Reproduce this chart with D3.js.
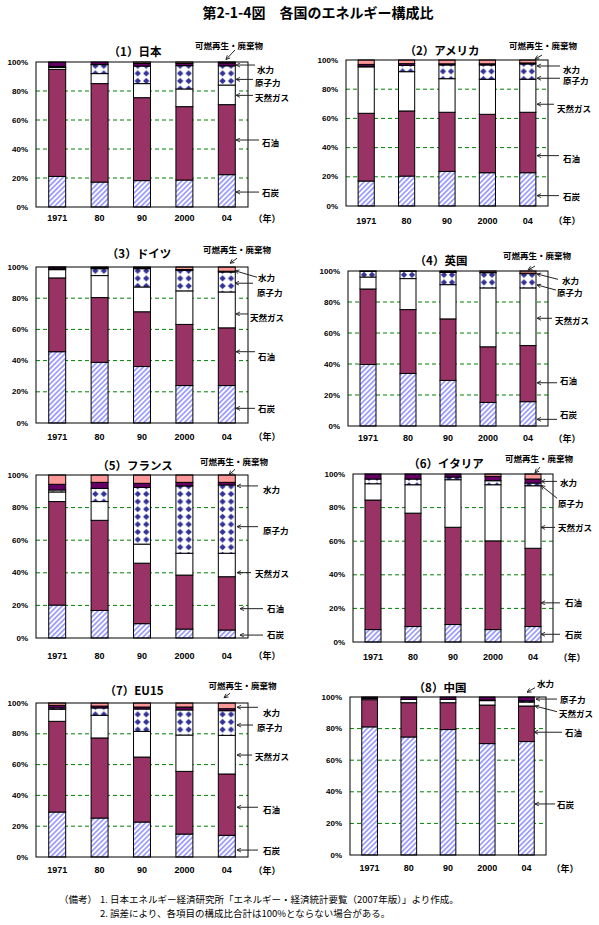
<!DOCTYPE html>
<html>
<head>
<meta charset="utf-8">
<script src="https://cdn.jsdelivr.net/npm/d3@7"></script>
<style>
  body { margin: 0; background: #fff; }
  text { font-family: "Liberation Sans", Arial, sans-serif; }
  .jp { font-family: "Noto Sans CJK JP", sans-serif; }
</style>
</head>
<body>
<div id="chart"></div>
<script>
// ---- data (shares in %, stacked bottom to top) ----
var years = ["1971", "80", "90", "2000", "04"];
var sources = ["石炭", "石油", "天然ガス", "原子力", "水力", "可燃再生・廃棄物"];
var countries = ["（1）日本", "（2）アメリカ", "（3）ドイツ", "（4）英国",
                 "（5）フランス", "（6）イタリア", "（7）EU15", "（8）中国"];
var yTicks = [0, 20, 40, 60, 80, 100];

// rows: coal, oil, gas, nuclear, hydro, renewables ; columns: years
var japan = [
  [21.1, 17.2, 18.2, 18.6, 22.3],
  [73.8, 67.9, 57.2, 50.6, 48.3],
  [1.3, 6.9, 9.7, 12.2, 13.5],
  [0.8, 6.2, 12.1, 16.1, 13.3],
  [3.0, 1.8, 1.8, 1.5, 2.0],
  [0.0, 0.0, 1.0, 1.0, 0.6]
];
var usa = [
  [17.1, 20.5, 23.7, 22.8, 22.8],
  [46.4, 44.6, 40.5, 40.0, 41.4],
  [31.8, 26.9, 23.0, 24.0, 22.6],
  [0.4, 4.3, 9.4, 9.8, 10.5],
  [1.3, 1.2, 0.8, 0.8, 0.7],
  [3.0, 2.5, 2.6, 2.6, 2.0]
];
var germany = [
  [45.7, 38.9, 36.2, 24.0, 24.0],
  [47.3, 41.5, 35.1, 39.2, 37.0],
  [5.3, 14.1, 15.9, 21.5, 23.0],
  [0.6, 4.4, 11.7, 13.2, 12.8],
  [1.0, 0.5, 0.4, 0.5, 0.5],
  [0.1, 0.6, 0.7, 1.6, 2.7]
];
var uk = [
  [39.7, 33.9, 29.4, 15.2, 15.7],
  [48.7, 41.2, 39.7, 35.9, 36.2],
  [7.7, 20.0, 22.1, 38.0, 37.2],
  [3.7, 4.8, 7.9, 9.8, 9.2],
  [0.2, 0.1, 0.3, 0.2, 0.3],
  [0.0, 0.0, 0.6, 0.9, 1.4]
];
var france = [
  [20.2, 16.9, 8.8, 5.5, 4.9],
  [63.5, 55.3, 37.1, 33.1, 32.7],
  [5.9, 11.5, 11.7, 13.4, 14.4],
  [1.2, 8.1, 34.8, 41.3, 41.9],
  [3.5, 3.7, 2.5, 2.2, 1.6],
  [5.7, 4.5, 5.1, 4.5, 4.5]
];
var italy = [
  [7.4, 9.2, 10.4, 7.4, 9.2],
  [77.1, 67.5, 57.9, 52.8, 46.6],
  [9.7, 16.9, 28.3, 33.4, 37.2],
  [2.8, 3.4, 1.6, 2.4, 1.6],
  [3.0, 3.0, 1.8, 2.6, 2.4],
  [0.0, 0.0, 0.0, 1.4, 3.0]
];
var eu15 = [
  [29.2, 25.3, 22.7, 14.9, 14.1],
  [58.9, 52.0, 42.2, 40.7, 39.8],
  [7.8, 14.7, 16.7, 23.6, 25.1],
  [0.9, 4.8, 14.5, 16.3, 16.0],
  [1.7, 1.2, 1.3, 1.9, 1.3],
  [1.5, 2.0, 2.6, 2.6, 3.7]
];
var china = [
  [81.1, 74.7, 79.4, 70.5, 71.8],
  [17.2, 21.7, 17.0, 24.4, 22.5],
  [0.8, 2.1, 2.1, 2.8, 2.5],
  [0.0, 0.0, 0.0, 0.4, 0.8],
  [0.9, 1.5, 1.5, 1.9, 2.4],
  [0.0, 0.0, 0.0, 0.0, 0.0]
];
var allShares = [japan, usa, germany, uk, france, italy, eu15, china];

// ---- layout ----
var W = 599, H = 925;
// plot box, title centre, x-label offset
var panels = [
  {x: 36,  y: 62,  w: 212, h: 145, tx: 135, ty: 51,  xl: 11},
  {x: 346, y: 60,  w: 202, h: 146, tx: 442, ty: 50,  xl: 14.5},
  {x: 36,  y: 267, w: 212, h: 156, tx: 139, ty: 253, xl: 13.5},
  {x: 348, y: 271, w: 200, h: 155, tx: 441, ty: 260, xl: 12},
  {x: 36,  y: 475, w: 212, h: 163, tx: 135, ty: 465, xl: 17.5},
  {x: 353, y: 474, w: 200, h: 168, tx: 446, ty: 463, xl: 15},
  {x: 36,  y: 703, w: 212, h: 154, tx: 134, ty: 690, xl: 13},
  {x: 350, y: 697, w: 196, h: 158, tx: 440, ty: 687, xl: 13}
];
// label callouts: [source, text dx from right edge, text %, arrow start dx, start %, tip dx, tip %, anchor]
var callouts = [
  [[5, -19, 111.7, -13, 108.3, -22, 101.7, "middle"], [4, 9, 95.2, 7, 97.9, -12, 97.9],
   [3, 7, 86.4, 5, 88, -12, 88], [2, 7, 76, 5, 77, -12, 77],
   [1, 14, 44.6, 11, 46.2, -12, 46.2], [0, 14, 10.1, 11, 10.3, -12, 10.3]],
  [[5, -5, 110.3, -6, 103.4, -13, 100.5, "middle"], [4, 15, 93.6, 12, 95.9, -11, 95.9],
   [3, 15, 86.3, 12, 87.5, -11, 87.5], [2, 9, 66.9, 6, 69.7, -11, 69.7],
   [1, 15, 32.6, 11, 34.5, -11, 34.5], [0, 15, 7.1, 11, 7.1, -11, 7.1]],
  [[5, -11, 111.3, -11, 105.6, -18, 102.4, "middle"], [4, 10, 93.8, 9, 93.4, -13, 97.6],
   [3, 9, 84.2, 5, 89.6, -13, 89.6], [2, 2, 68.1, 0, 69.9, -12, 69.9],
   [1, 10, 42.9, 7, 45.7, -12, 45.7], [0, 10, 9.4, 7, 9.4, -12, 9.4]],
  [[5, -11, 110.3, -13, 103.2, -20, 100.6, "middle"], [4, 14, 94.2, 10, 94.6, -11, 98.1],
   [3, 9, 86.2, 8, 87.7, -11, 91], [2, 7, 68.4, 4, 69.5, -11, 69.5],
   [1, 12, 29.7, 9, 27.9, -11, 27.9], [0, 12, 7.7, 9, 4.3, -11, 4.3]],
  [[5, -14, 108.8, -13, 103.5, -19, 100, "middle"], [4, 15, 91.2, 10, 93.3, -11, 93.3],
   [3, 15, 66.3, 10, 68.3, -11, 68.3], [2, 7, 40.1, 3, 40.1, -11, 40.1],
   [1, 19, 18.6, 15, 18, -8, 18], [0, 19, 2.5, 15, 1.8, -8, 1.8]],
  [[5, -14, 109.8, -13, 104.1, -18, 100.6, "middle"], [4, 7, 95.2, 4, 95.6, -12, 95.6],
   [3, 5, 83, 4, 85.6, -12, 93.2], [2, 5, 68.2, 2, 68.2, -12, 68.2],
   [1, 12, 23.9, 7, 23.3, -12, 23.3], [0, 12, 4.6, 7, 4.6, -12, 4.6]],
  [[5, -5.5, 111.7, -18, 106.3, -24, 103.4, "middle"], [4, 15, 94.4, 10, 97.2, -11, 97.2],
   [3, 9, 84.6, 5, 85.7, -11, 85.7], [2, 7, 65.4, 4, 66.2, -11, 66.2],
   [1, 15, 31.2, 10, 32.3, -11, 32.3], [0, 15, 4.5, 10, 4.5, -11, 4.5]],
  [[4, -9, 108.7, -11, 105.9, -19, 103], [3, 14, 98.7, 11, 98.7, -10, 98.7],
   [2, 13, 89.7, 11, 90.7, -11, 94.3], [1, 19, 77.7, 16, 77.7, -12, 77.7],
   [0, 11, 32.3, 9, 32.3, -11, 32.3]]
];

var colors = ["url(#coalHatch)", "#993366", "#ffffff", null, "#660066", "#ff9999"];

var svg = d3.select("#chart").append("svg")
  .attr("width", W)
  .attr("height", H);

svg.append("rect").attr("width", W).attr("height", H).attr("fill", "#fff");

var defs = svg.append("defs");

// coal hatch
var hatch = defs.append("pattern")
  .attr("id", "coalHatch")
  .attr("patternUnits", "userSpaceOnUse")
  .attr("width", 3.6).attr("height", 3.6)
  .attr("patternTransform", "rotate(45)");
hatch.append("rect").attr("width", 3.6).attr("height", 3.6).attr("fill", "#fff");
hatch.append("rect").attr("width", 1.7).attr("height", 3.6).attr("fill", "#9999ff");

// arrow head
defs.append("marker")
  .attr("id", "arrow")
  .attr("viewBox", "0 0 8 8")
  .attr("refX", 7.5).attr("refY", 4)
  .attr("markerWidth", 5).attr("markerHeight", 5)
  .attr("markerUnits", "userSpaceOnUse")
  .attr("orient", "auto")
  .append("path")
  .attr("d", "M1,0.8 L7.5,4 L1,7.2")
  .attr("fill", "none")
  .attr("stroke", "#222")
  .attr("stroke-width", 1.4);

// main title
svg.append("text")
  .attr("class", "jp")
  .attr("x", 318).attr("y", 12)
  .attr("text-anchor", "middle")
  .attr("dominant-baseline", "central")
  .style("font-size", "14px")
  .style("font-weight", "bold")
  .text("第2-1-4図　各国のエネルギー構成比");

var stack = d3.stack().keys(sources);

panels.forEach(function(p, pi) {
  var shares = allShares[pi];
  var rows = years.map(function(yr, i) {
    var r = {year: yr};
    sources.forEach(function(s, k) { r[s] = shares[k][i]; });
    return r;
  });
  var series = stack(rows);

  var xScale = d3.scaleBand()
    .domain(years)
    .range([p.x, p.x + p.w])
    .paddingInner(0.6)
    .paddingOuter(0.3);
  var yScale = d3.scaleLinear()
    .domain([0, 100])
    .range([p.y + p.h, p.y]);

  var g = svg.append("g");

  // nuclear diamond patterns, one per bar so they line up with the bar
  years.forEach(function(yr, i) {
    var bw = xScale.bandwidth();
    var pw = bw / 2, ph = 7.6;
    var pat = defs.append("pattern")
      .attr("id", "nuc" + pi + "_" + i)
      .attr("patternUnits", "userSpaceOnUse")
      .attr("x", xScale(yr)).attr("y", p.y)
      .attr("width", pw).attr("height", ph);
    pat.append("rect").attr("width", pw).attr("height", ph).attr("fill", "#fff");
    var cx = pw / 2, cy = ph / 2, r = 3.2;
    pat.append("path")
      .attr("d", "M" + cx + "," + (cy - r) + "L" + (cx + r) + "," + cy + "L" + cx + "," + (cy + r) + "L" + (cx - r) + "," + cy + "Z")
      .attr("fill", "#333399");
  });

  // gridlines
  g.selectAll("line.grid")
    .data(yTicks.filter(function(t) { return t > 0 && t < 100; }))
    .enter().append("line")
    .attr("x1", p.x).attr("x2", p.x + p.w)
    .attr("y1", function(d) { return yScale(d); })
    .attr("y2", function(d) { return yScale(d); })
    .attr("stroke", "#008000")
    .attr("stroke-width", 1)
    .attr("stroke-dasharray", "4,3");

  // stacked bars
  series.forEach(function(s, k) {
    g.selectAll("rect.s" + k)
      .data(s.filter(function(d) { return d[1] - d[0] > 0; }))
      .enter().append("rect")
      .attr("x", function(d) { return xScale(d.data.year); })
      .attr("y", function(d) { return yScale(d[1]); })
      .attr("width", xScale.bandwidth())
      .attr("height", function(d) { return yScale(d[0]) - yScale(d[1]); })
      .attr("fill", function(d) {
        if (k === 3) return "url(#nuc" + pi + "_" + years.indexOf(d.data.year) + ")";
        return colors[k];
      })
      .attr("stroke", "#000")
      .attr("stroke-width", 1);
  });

  // frame
  g.append("rect")
    .attr("x", p.x).attr("y", p.y)
    .attr("width", p.w).attr("height", p.h)
    .attr("fill", "none")
    .attr("stroke", "#000")
    .attr("stroke-width", 1);

  // y tick labels
  g.selectAll("text.ytick")
    .data(yTicks)
    .enter().append("text")
    .attr("x", p.x - 8)
    .attr("y", function(d) { return yScale(d); })
    .attr("text-anchor", "end")
    .attr("dominant-baseline", "central")
    .style("font-size", "8px")
    .style("font-weight", "bold")
    .text(function(d) { return d + "%"; });

  // x labels
  g.selectAll("text.xlab")
    .data(years)
    .enter().append("text")
    .attr("x", function(d) { return xScale(d) + xScale.bandwidth() / 2; })
    .attr("y", p.y + p.h + p.xl)
    .attr("text-anchor", "middle")
    .attr("dominant-baseline", "central")
    .style("font-size", "9px")
    .style("font-weight", "bold")
    .text(function(d) { return d; });

  g.append("text")
    .attr("class", "jp")
    .attr("x", p.x + p.w + 19)
    .attr("y", p.y + p.h + p.xl)
    .attr("text-anchor", "middle")
    .attr("dominant-baseline", "central")
    .style("font-size", "9px")
    .style("font-weight", "bold")
    .text("（年）");

  // panel title
  g.append("text")
    .attr("class", "jp")
    .attr("x", p.tx).attr("y", p.ty)
    .attr("text-anchor", "middle")
    .attr("dominant-baseline", "central")
    .style("font-size", "11.5px")
    .style("font-weight", "bold")
    .text(countries[pi]);

  // callouts
  var right = p.x + p.w;
  callouts[pi].forEach(function(c) {
    g.append("line")
      .attr("x1", right + c[3]).attr("y1", yScale(c[4]))
      .attr("x2", right + c[5]).attr("y2", yScale(c[6]))
      .attr("stroke", "#222")
      .attr("stroke-width", 1)
      .attr("marker-end", "url(#arrow)");
    g.append("text")
      .attr("class", "jp")
      .attr("x", right + c[1]).attr("y", yScale(c[2]))
      .attr("text-anchor", c[7] || "start")
      .attr("dominant-baseline", "central")
      .style("font-size", "8.5px")
      .style("font-weight", "bold")
      .text(sources[c[0]]);
  });
});

// notes
var notes = svg.append("g").attr("class", "jp").style("font-size", "9.5px");
notes.append("text").attr("class", "jp").attr("x", 59).attr("y", 899)
  .attr("dominant-baseline", "central").text("（備考）");
notes.append("text").attr("class", "jp").attr("x", 100).attr("y", 899)
  .attr("dominant-baseline", "central")
  .text("1. 日本エネルギー経済研究所「エネルギー・経済統計要覧（2007年版）」より作成。");
notes.append("text").attr("class", "jp").attr("x", 100).attr("y", 913)
  .attr("dominant-baseline", "central")
  .text("2. 誤差により、各項目の構成比合計は100%とならない場合がある。");
</script>
</body>
</html>
